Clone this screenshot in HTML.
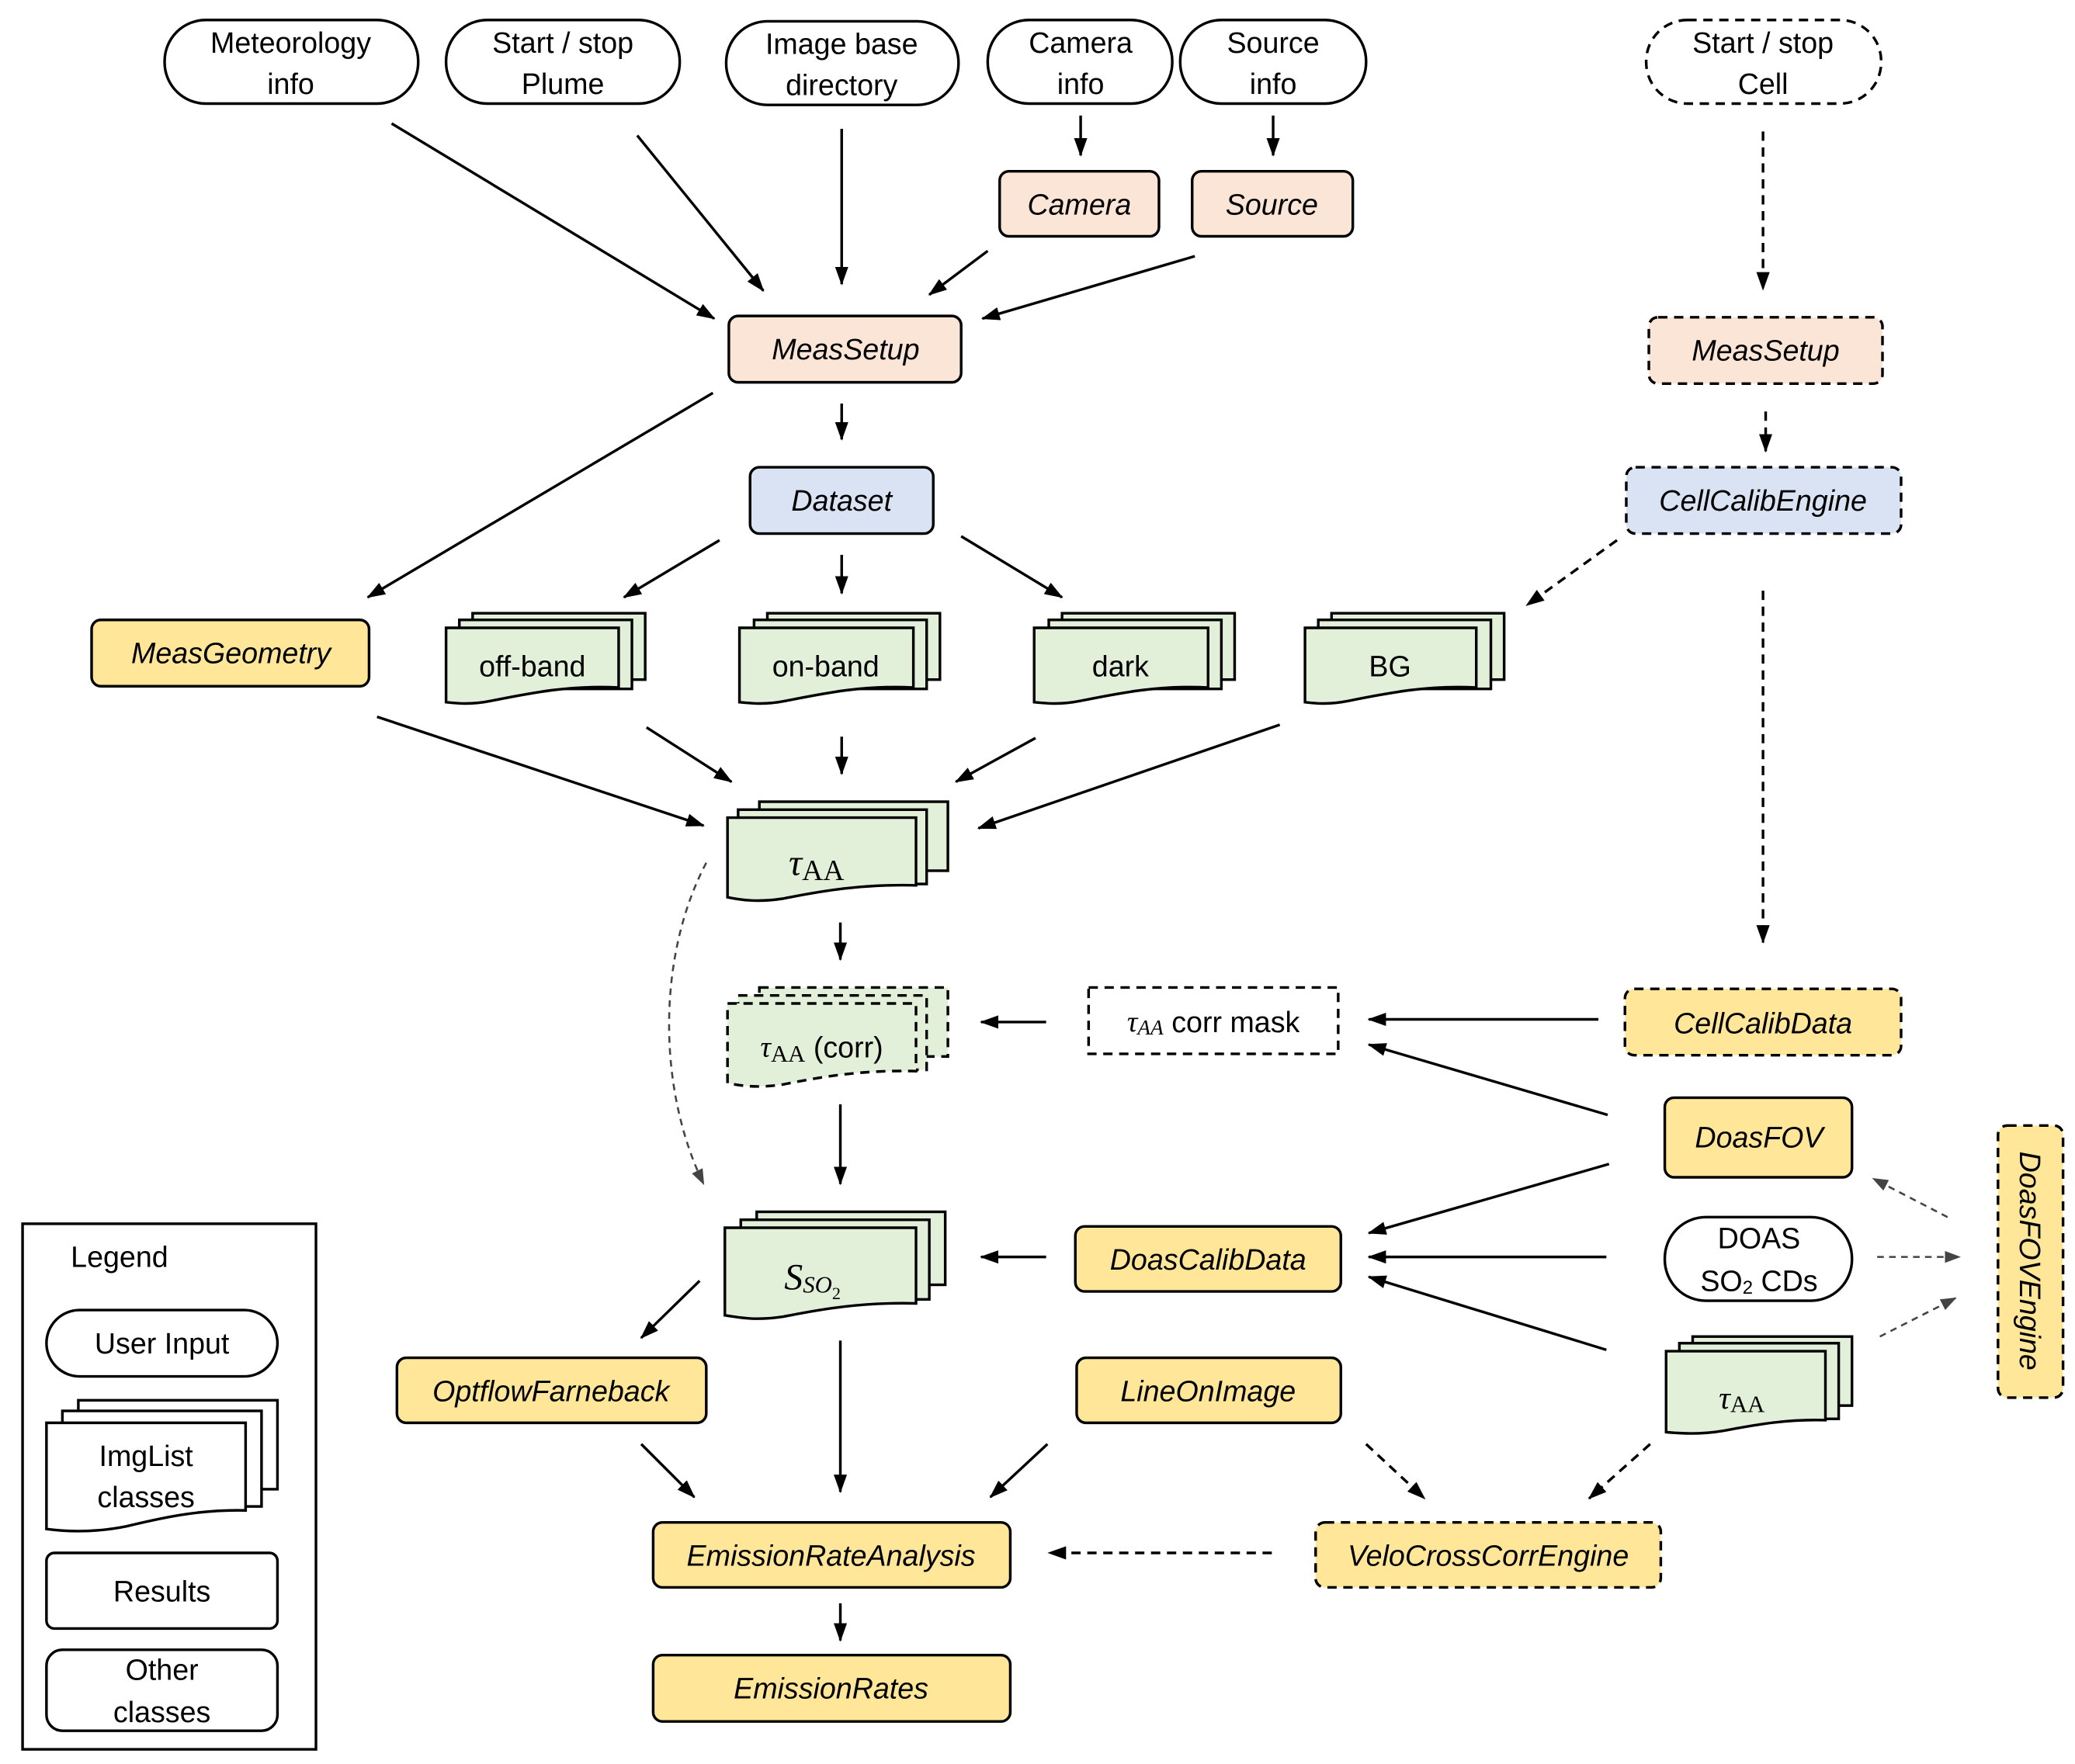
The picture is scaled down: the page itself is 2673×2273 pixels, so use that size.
<!DOCTYPE html>
<html><head><meta charset="utf-8">
<style>
html,body{margin:0;padding:0;background:#fff;}
svg{display:block;}
text{font-family:"Liberation Sans",sans-serif;font-size:22px;fill:#000;text-anchor:middle;dominant-baseline:central;}
.i{font-style:italic;}
.s{font-family:"Liberation Serif",serif;}
</style></head><body>
<svg width="2673" height="2273" viewBox="0 0 1563 1329" xmlns="http://www.w3.org/2000/svg">
<defs>
<marker id="a" markerWidth="14" markerHeight="10" refX="13" refY="5" orient="auto" markerUnits="userSpaceOnUse"><path d="M0,0 L14,5 L0,10 Z" fill="#000"/></marker>
<marker id="g" markerWidth="12" markerHeight="9" refX="11" refY="4.5" orient="auto" markerUnits="userSpaceOnUse"><path d="M0,0 L12,4.5 L0,9 Z" fill="#444"/></marker>
</defs>
<g fill="none" stroke="#000" stroke-width="2">
<!-- user input ovals -->
<rect x="124" y="15" width="191" height="63" rx="31" fill="#fff"/>
<rect x="336" y="15" width="176" height="63" rx="31" fill="#fff"/>
<rect x="547" y="16" width="175" height="63" rx="31" fill="#fff"/>
<rect x="744" y="15" width="139" height="63" rx="31" fill="#fff"/>
<rect x="889" y="15" width="140" height="63" rx="31" fill="#fff"/>
<rect x="1240" y="15" width="177" height="63" rx="31" fill="#fff" stroke-dasharray="7,5"/>
<rect x="1254" y="917" width="141" height="63" rx="31" fill="#fff"/>
<!-- peach -->
<rect x="753" y="129" width="120" height="49" rx="7" fill="#fbe5d6"/>
<rect x="898" y="129" width="121" height="49" rx="7" fill="#fbe5d6"/>
<rect x="549" y="238" width="175" height="50" rx="7" fill="#fbe5d6"/>
<rect x="1242" y="239" width="176" height="50" rx="7" fill="#fbe5d6" stroke-dasharray="7,5"/>
<!-- blue -->
<rect x="565" y="352" width="138" height="50" rx="7" fill="#dae3f3"/>
<rect x="1225" y="352" width="207" height="50" rx="7" fill="#dae3f3" stroke-dasharray="7,5"/>
<!-- yellow -->
<rect x="69" y="467" width="209" height="50" rx="7" fill="#ffe699"/>
<rect x="299" y="1023" width="233" height="49" rx="7" fill="#ffe699"/>
<rect x="811" y="1023" width="199" height="49" rx="7" fill="#ffe699"/>
<rect x="810" y="924" width="200" height="49" rx="7" fill="#ffe699"/>
<rect x="1224" y="745" width="208" height="50" rx="7" fill="#ffe699" stroke-dasharray="7,5"/>
<rect x="1254" y="827" width="141" height="60" rx="7" fill="#ffe699"/>
<rect x="492" y="1147" width="269" height="49" rx="7" fill="#ffe699"/>
<rect x="492" y="1247" width="269" height="50" rx="7" fill="#ffe699"/>
<rect x="991" y="1147" width="260" height="49" rx="7" fill="#ffe699" stroke-dasharray="7,5"/>
<rect x="1505" y="848" width="49" height="205" rx="7" fill="#ffe699" stroke-dasharray="7,5"/>
<!-- white dashed -->
<rect x="820" y="744" width="188" height="50" fill="#fff" stroke-dasharray="7,5"/>
<!-- legend -->
<rect x="17" y="922" width="221" height="396" fill="#fff"/>
<rect x="35" y="987" width="174" height="50" rx="25" fill="#fff"/>
<rect x="35" y="1170" width="174" height="57" rx="6" fill="#fff"/>
<rect x="35" y="1243" width="174" height="61" rx="12" fill="#fff"/>
</g>
<g stroke="#000" stroke-width="2" fill="#e2f0d9" id="docs">
<!-- off-band -->
<rect x="356" y="462" width="130" height="50"/><rect x="346" y="467" width="130" height="52"/>
<path d="M336,473 H466 V518 C430,516 400,522 370,528 C355,531 345,530 336,529 Z"/>
<!-- on-band -->
<rect x="578" y="462" width="130" height="50"/><rect x="568" y="467" width="130" height="52"/>
<path d="M557,473 H688 V518 C652,516 622,522 592,528 C577,531 567,530 557,529 Z"/>
<!-- dark -->
<rect x="800" y="462" width="130" height="50"/><rect x="790" y="467" width="130" height="52"/>
<path d="M779,473 H910 V518 C874,516 844,522 814,528 C799,531 789,530 779,529 Z"/>
<!-- BG -->
<rect x="1003" y="462" width="130" height="50"/><rect x="993" y="467" width="130" height="52"/>
<path d="M983,473 H1112 V518 C1076,516 1046,522 1016,528 C1001,531 991,530 983,529 Z"/>
<!-- tau AA -->
<rect x="572" y="604" width="142" height="52"/><rect x="556" y="610" width="142" height="56"/>
<path d="M548,616 H690 V667 C650,666 620,671 590,677 C570,680 558,678 548,676 Z"/>
<!-- S SO2 -->
<rect x="570" y="913" width="142" height="55"/><rect x="558" y="919" width="142" height="60"/>
<path d="M546,925 H690 V982 C650,981 620,986 590,992 C570,995 558,993 546,991 Z"/>
<!-- small tau -->
<rect x="1275" y="1007" width="120" height="52"/><rect x="1265" y="1012" width="120" height="57"/>
<path d="M1255,1018 H1375 V1070 C1345,1069 1320,1074 1298,1078 C1280,1081 1266,1080 1255,1079 Z"/>
<!-- legend imglist -->
<rect x="59" y="1055" width="150" height="67" fill="#fff"/><rect x="47" y="1063" width="150" height="72" fill="#fff"/>
<path d="M35,1072 H185 V1138 C150,1137 120,1144 95,1150 C70,1155 50,1154 35,1152 Z" fill="#fff"/>
</g>
<g stroke="#000" stroke-width="2" fill="#e2f0d9" stroke-dasharray="7,5">
<rect x="572" y="744" width="142" height="52"/><rect x="556" y="750" width="142" height="56"/>
<path d="M548,756 H690 V807 C650,806 620,811 590,817 C570,820 558,818 548,816 Z"/>
</g>
<!-- arrows -->
<g stroke="#000" stroke-width="2" fill="none" marker-end="url(#a)">
<line x1="295" y1="93" x2="538" y2="240"/>
<line x1="480" y1="102" x2="575" y2="219"/>
<line x1="634" y1="97" x2="634" y2="214"/>
<line x1="744" y1="189" x2="700" y2="222"/>
<line x1="900" y1="193" x2="740" y2="240"/>
<line x1="814" y1="87" x2="814" y2="117"/>
<line x1="959" y1="87" x2="959" y2="117"/>
<line x1="537" y1="296" x2="277" y2="450"/>
<line x1="634" y1="304" x2="634" y2="331"/>
<line x1="542" y1="407" x2="470" y2="450"/>
<line x1="634" y1="418" x2="634" y2="447"/>
<line x1="724" y1="404" x2="800" y2="450"/>
<line x1="284" y1="540" x2="530" y2="622"/>
<line x1="487" y1="548" x2="551" y2="589"/>
<line x1="634" y1="555" x2="634" y2="583"/>
<line x1="780" y1="556" x2="720" y2="589"/>
<line x1="964" y1="546" x2="737" y2="624"/>
<line x1="633" y1="695" x2="633" y2="723"/>
<line x1="788" y1="770" x2="739" y2="770"/>
<line x1="1204" y1="768" x2="1031" y2="768"/>
<line x1="1211" y1="840" x2="1031" y2="787"/>
<line x1="633" y1="832" x2="633" y2="892"/>
<line x1="788" y1="947" x2="739" y2="947"/>
<line x1="1212" y1="877" x2="1031" y2="929"/>
<line x1="1210" y1="947" x2="1031" y2="947"/>
<line x1="1210" y1="1017" x2="1031" y2="962"/>
<line x1="527" y1="965" x2="483" y2="1008"/>
<line x1="633" y1="1010" x2="633" y2="1124"/>
<line x1="483" y1="1088" x2="523" y2="1128"/>
<line x1="789" y1="1088" x2="746" y2="1128"/>
<line x1="633" y1="1208" x2="633" y2="1236"/>
</g>
<g stroke="#000" stroke-width="2" fill="none" marker-end="url(#a)" stroke-dasharray="7,5">
<line x1="1328" y1="99" x2="1328" y2="218"/>
<line x1="1330" y1="310" x2="1330" y2="340"/>
<line x1="1218" y1="407" x2="1150" y2="456"/>
<line x1="1328" y1="445" x2="1328" y2="710"/>
<line x1="1029" y1="1088" x2="1073" y2="1129"/>
<line x1="1243" y1="1088" x2="1197" y2="1129"/>
<line x1="958" y1="1170" x2="790" y2="1170"/>
</g>
<g stroke="#444" stroke-width="1.5" fill="none" marker-end="url(#g)" stroke-dasharray="5,4">
<path d="M532,650 C495,720 495,820 530,892"/>
<line x1="1467" y1="917" x2="1411" y2="888"/>
<line x1="1414" y1="947" x2="1476" y2="947"/>
<line x1="1416" y1="1007" x2="1473" y2="978"/>
</g>
<!-- texts -->
<text x="219" y="32">Meteorology</text><text x="219" y="63">info</text>
<text x="424" y="32">Start / stop</text><text x="424" y="63">Plume</text>
<text x="634" y="33">Image base</text><text x="634" y="64">directory</text>
<text x="814" y="32">Camera</text><text x="814" y="63">info</text>
<text x="959" y="32">Source</text><text x="959" y="63">info</text>
<text x="1328" y="32">Start / stop</text><text x="1328" y="63">Cell</text>
<text class="i" x="813" y="154">Camera</text>
<text class="i" x="958" y="154">Source</text>
<text class="i" x="637" y="263">MeasSetup</text>
<text class="i" x="1330" y="264">MeasSetup</text>
<text class="i" x="634" y="377">Dataset</text>
<text class="i" x="1328" y="377">CellCalibEngine</text>
<text class="i" x="174" y="492">MeasGeometry</text>
<text x="401" y="502">off-band</text>
<text x="622" y="502">on-band</text>
<text x="844" y="502">dark</text>
<text x="1047" y="502">BG</text>
<text class="s" x="615" y="650" style="font-size:28px"><tspan font-style="italic">τ</tspan><tspan dy="6" font-size="22">AA</tspan></text>
<text x="619" y="789"><tspan class="s" font-style="italic" font-family="Liberation Serif">τ</tspan><tspan dy="5" font-size="18" font-family="Liberation Serif">AA</tspan><tspan dy="-5"> (corr)</tspan></text>
<text x="914" y="770"><tspan font-style="italic" font-family="Liberation Serif">τ</tspan><tspan dy="4" font-size="16" font-style="italic" font-family="Liberation Serif">AA</tspan><tspan dy="-4"> corr mask</tspan></text>
<text class="i" x="1328" y="771">CellCalibData</text>
<text class="i" x="1325" y="857">DoasFOV</text>
<text class="i" x="910" y="949">DoasCalibData</text>
<text x="1325" y="933">DOAS</text>
<text x="1325" y="965">SO<tspan font-size="14" dy="5">2</tspan><tspan dy="-5"> CDs</tspan></text>
<text class="s" x="612" y="962" style="font-size:28px"><tspan font-style="italic">S</tspan><tspan dy="6" font-size="18" font-style="italic">SO</tspan><tspan dy="6" font-size="13">2</tspan></text>
<text class="s" x="1312" y="1053" style="font-size:24px"><tspan font-style="italic">τ</tspan><tspan dy="5" font-size="18">AA</tspan></text>
<text class="i" x="415" y="1048">OptflowFarneback</text>
<text class="i" x="910" y="1048">LineOnImage</text>
<text class="i" x="626" y="1172">EmissionRateAnalysis</text>
<text class="i" x="626" y="1272">EmissionRates</text>
<text class="i" x="1121" y="1172">VeloCrossCorrEngine</text>
<text class="i" x="1529" y="950" transform="rotate(90 1529 950)">DoasFOVEngine</text>
<text x="90" y="947">Legend</text>
<text x="122" y="1012">User Input</text>
<text x="110" y="1097">ImgList</text><text x="110" y="1128">classes</text>
<text x="122" y="1199">Results</text>
<text x="122" y="1258">Other</text><text x="122" y="1290">classes</text>
</svg>
</body></html>
